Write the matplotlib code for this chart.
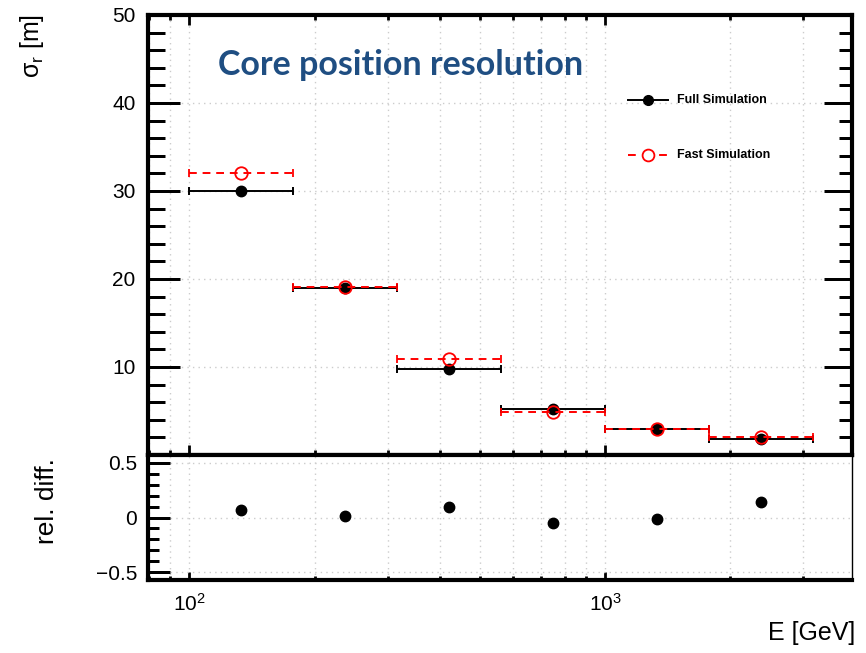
import numpy as np
import matplotlib
matplotlib.use("Agg")
import matplotlib.pyplot as plt
from matplotlib.ticker import FixedLocator, MultipleLocator, NullFormatter, FixedFormatter

plt.rcParams['font.family'] = ['Liberation Sans', 'DejaVu Sans']
plt.rcParams['mathtext.fontset'] = 'custom'
plt.rcParams['mathtext.rm'] = 'Liberation Sans'
plt.rcParams['mathtext.it'] = 'Liberation Sans:italic'

# Data
bin_edges = [100, 177.8, 316.2, 562.3, 1000, 1778, 3162]
full_sim = [30.0, 19.0, 9.8, 5.2, 2.9, 1.8]
fast_sim = [32.0, 19.1, 10.9, 4.9, 2.9, 2.1]
rel_diff = [0.065, 0.01, 0.10, -0.05, -0.01, 0.14]
y_ticks = [10, 20, 30, 40, 50]
r_ticks = [-0.5, 0, 0.5]
r_ticklabels = ['\u22120.5', '0', '0.5']
x_ticks = [100, 1000]
x_ticklabels = [r'$10^{2}$', r'$10^{3}$']

edges = np.array(bin_edges)
centers = np.sqrt(edges[:-1] * edges[1:])
xerr = np.vstack([centers - edges[:-1], edges[1:] - centers])

W, H = 866, 653
PX = 0.72  # points per pixel at dpi 100
fig = plt.figure(figsize=(W / 100, H / 100), dpi=100)
L, R = 148 / W, 852 / W
ax = fig.add_axes([L, 1 - 455 / H, R - L, 440 / H])
axr = fig.add_axes([L, 1 - 580 / H, R - L, 125 / H], sharex=ax)

ax.set_xscale('log')
ax.set_xlim(79.5, 3930)
ax.set_ylim(0, 50)

grid_kw = dict(color='#cccccc', linestyle=(0, (1, 3)), linewidth=1.0)
for a in (ax, axr):
    a.grid(True, which='both', axis='x', **grid_kw)
    a.grid(True, which='major', axis='y', **grid_kw)
    a.set_axisbelow(True)

# Full simulation
ax.errorbar(centers, full_sim, xerr=xerr, fmt='o', color='black', ms=7.5,
            elinewidth=1.4, capsize=3, capthick=1.4, zorder=3)
# Fast simulation
eb = ax.errorbar(centers, fast_sim, xerr=xerr, fmt='o', color='red', mfc='none',
                 mec='red', ms=9, mew=1.3, elinewidth=1.4, capsize=3, capthick=1.4, zorder=4)
for lc in eb[2]:
    lc.set_linestyle((0, (4, 3)))

tw_major, tw_minor = 3 * PX, 3 * PX
ax.set_yticks(y_ticks)
ax.yaxis.set_minor_locator(MultipleLocator(2))
ax.tick_params(axis='y', which='major', direction='in', length=32 * PX, width=tw_major,
               labelsize=15, pad=9, left=True, right=False)
ax.tick_params(axis='y', which='minor', direction='in', length=17 * PX, width=tw_minor,
               left=True, right=False)
ax.tick_params(axis='x', which='major', direction='in', length=10 * PX, width=2.0,
               top=True, bottom=True, labelbottom=False)
ax.tick_params(axis='x', which='minor', direction='in', length=5 * PX, width=2.0,
               top=True, bottom=True)

tw = ax.twinx()
tw.set_ylim(0, 50)
tw.set_yticks(y_ticks)
tw.yaxis.set_minor_locator(MultipleLocator(2))
tw.tick_params(axis='y', which='major', direction='in', length=28 * PX, width=tw_major,
               labelright=False)
tw.tick_params(axis='y', which='minor', direction='in', length=13 * PX, width=tw_minor)
for s in tw.spines.values():
    s.set_visible(False)

for s in ax.spines.values():
    s.set_linewidth(3)

# Title
ax.text((218 - 148) / 704, (455 - 75) / 440, 'Core position resolution', transform=ax.transAxes,
        fontsize=24.5, fontweight='bold', color='#1f4e82', family=['Lato', 'DejaVu Sans'],
        va='baseline', ha='left')

# Legend (drawn manually in axes coordinates)
def ax_x(px):
    return (px - 148) / 704

def ax_y(py):
    return (455 - py) / 440

for py, label, kind in [(100, 'Full Simulation', 'full'), (155, 'Fast Simulation', 'fast')]:
    yy = ax_y(py)
    if kind == 'full':
        ax.plot([ax_x(628), ax_x(668)], [yy, yy], color='black', lw=1.4,
                transform=ax.transAxes, clip_on=False)
        ax.plot([ax_x(648)], [yy], 'o', color='black', ms=7, transform=ax.transAxes, clip_on=False)
    else:
        ax.plot([ax_x(628), ax_x(668)], [yy, yy], color='red', lw=1.4,
                linestyle=(0, (4, 4)), transform=ax.transAxes, clip_on=False)
        ax.plot([ax_x(648)], [yy], 'o', color='red', mfc='white', mew=1.3, ms=8.5,
                transform=ax.transAxes, clip_on=False)
    ax.text(ax_x(677), yy, label, transform=ax.transAxes, fontsize=9, fontweight='bold',
            va='center', ha='left')

# Ratio panel
axr.plot(centers, rel_diff, 'o', color='black', ms=7.5, zorder=3)
axr.set_ylim(-0.57, 0.57)
axr.set_yticks(r_ticks)
axr.set_yticklabels(r_ticklabels)
axr.yaxis.set_minor_locator(MultipleLocator(0.1))
axr.tick_params(axis='y', which='major', direction='in', length=22 * PX, width=tw_major,
                labelsize=15, pad=8, right=False)
axr.tick_params(axis='y', which='minor', direction='in', length=11 * PX, width=tw_minor,
                right=False)
axr.tick_params(axis='x', which='major', direction='in', length=8 * PX, width=2.0,
                labelsize=15, pad=9, bottom=True, top=False)
axr.tick_params(axis='x', which='minor', direction='in', length=4 * PX, width=2.0, top=False)
axr.xaxis.set_major_locator(FixedLocator(x_ticks))
axr.xaxis.set_major_formatter(FixedFormatter(x_ticklabels))
axr.xaxis.set_minor_formatter(NullFormatter())
for k in ('left', 'bottom', 'top'):
    axr.spines[k].set_linewidth(3)
axr.spines['right'].set_linewidth(1.0)
axr.spines['right'].set_linestyle((0, (1, 1)))

# Axis labels
fig.text(32 / W, 1 - 14 / H, '\u03c3$_{\\rm r}$ [m]', rotation=90, fontsize=18,
         ha='center', va='top')
fig.text(47 / W, 1 - 501 / H, 'rel. diff.', rotation=90, fontsize=19,
         ha='center', va='center')
fig.text(855 / W, 1 - 633 / H, 'E [GeV]', fontsize=18, ha='right', va='center')

fig.savefig('out.png', dpi=100)
